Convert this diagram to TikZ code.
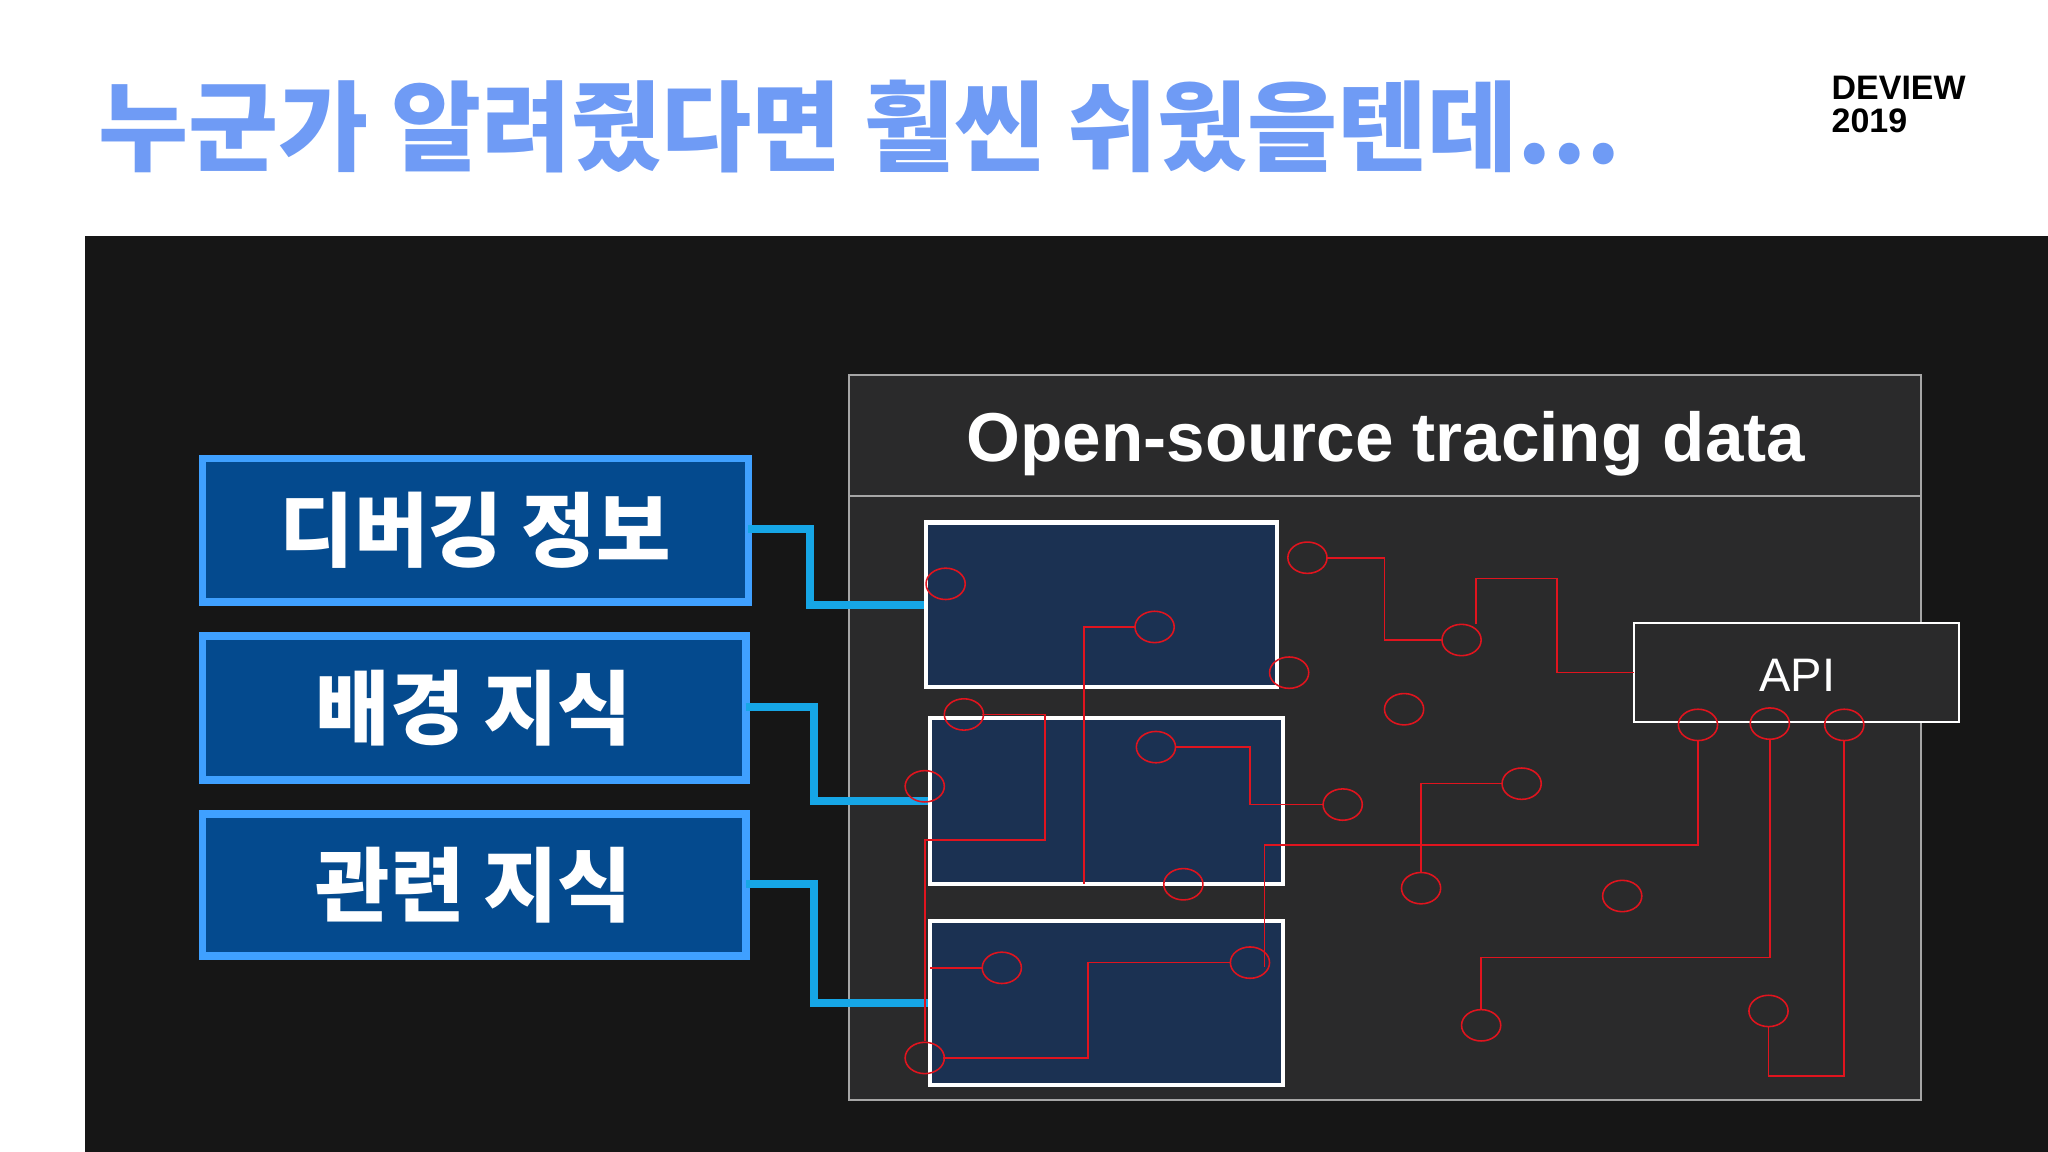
\documentclass[tikz,border=0pt]{standalone}
\usepackage{fontspec}
\setmainfont{Liberation Sans}
\newfontfamily\kr{Noto Sans CJK KR}
\usetikzlibrary{positioning}
\definecolor{ttl}{HTML}{6F9BF5}
\definecolor{panel}{HTML}{161616}
\definecolor{bigbox}{HTML}{2A2A2B}
\definecolor{lbox}{HTML}{044A8E}
\definecolor{lborder}{HTML}{3FA0FF}
\definecolor{cyanl}{HTML}{16A6E6}
\definecolor{ibox}{HTML}{1B3152}
\definecolor{redl}{HTML}{E0141E}
\begin{document}
\begin{tikzpicture}[x=0.5pt,y=-0.5pt,
  lb/.style={draw=lborder,line width=3pt,fill=lbox},
  lt/.style={text=white,font=\kr\bfseries\fontsize{31}{34}\selectfont},
  ib/.style={draw=white,line width=1.6pt,fill=ibox},
  cn/.style={draw=cyanl,line width=3pt},
  rl/.style={draw=redl,line width=0.6pt}]
\useasboundingbox (0,0) rectangle (1568,882);
\fill[white] (0,0) rectangle (1568,882);
\node[anchor=west,text=ttl,font=\kr\bfseries\fontsize{37.5}{40}\selectfont,inner sep=0pt] (title) at (75,97) {누군가 알려줬다면 훨씬 쉬웠을텐데...};
\node[anchor=west,font=\bfseries\fontsize{13}{13}\selectfont,align=left,inner sep=0pt] (dv) at (1402,80) {DEVIEW\\2019};
\fill[panel] (65,181) rectangle (1568,882);
\draw[draw=gray!70,line width=0.8pt,fill=bigbox] (650,287) rectangle (1471,842);
\draw[gray!70,line width=0.8pt] (650,380) -- (1471,380);
\node[text=white,font=\bfseries\fontsize{26.5}{28}\selectfont] (hdr) at (1061,340) {Open-source tracing data};
\draw[lb] (155,351) rectangle (573,461); \node[lt] (l1) at (364,406) {디버깅 정보};
\draw[lb] (155,487) rectangle (571,597); \node[lt] (l2) at (363,542) {배경 지식};
\draw[lb] (155,623) rectangle (571,732); \node[lt] (l3) at (363,678) {관련 지식};
\draw[cn] (573,405) -- (620,405) -- (620,463) -- (709,463);
\draw[cn] (571,541) -- (623,541) -- (623,613) -- (712,613);
\draw[cn] (571,677) -- (623,677) -- (623,768) -- (712,768);
\draw[ib] (709,400) rectangle (978,526);
\draw[ib] (712,550) rectangle (982,677);
\draw[ib] (712,705) rectangle (982,831);
\draw[draw=white,line width=0.8pt,fill=bigbox] (1251,477) rectangle (1500,553);
\node[text=white,font=\fontsize{18}{20}\selectfont] (api) at (1376,517) {API};
\draw[rl] (1016,427) -- (1060,427) -- (1060,490) -- (1104,490);
\draw[rl] (1130,478) -- (1130,443) -- (1192,443) -- (1192,515) -- (1251,515);
\draw[rl] (869,480) -- (830,480) -- (830,677);
\draw[rl] (752,547) -- (800,547) -- (800,643) -- (708,643) -- (708,797);
\draw[rl] (900,572) -- (957,572) -- (957,616) -- (1013,616);
\draw[rl] (1088,668) -- (1088,600) -- (1150,600);
\draw[rl] (968,740) -- (968,647) -- (1300,647) -- (1300,567);
\draw[rl] (1134,773) -- (1134,733) -- (1355,733) -- (1355,566);
\draw[rl] (1354,786) -- (1354,824) -- (1412,824) -- (1412,567);
\draw[rl] (752,741) -- (712,741);
\draw[rl] (722,810) -- (833,810) -- (833,737) -- (942,737);
\foreach \n/\x/\y in {a/724/447,b/884/480,c/1001/427,d/1119/490,e/987/515,f/1075/543,g/738/547,h/885/572,i/1028/616,j/1165/600,k/708/602,l/906/677,m/1088/680,n/1242/686,o/767/741,p/957/737,q/708/810,r/1134/785,s/1354/774,t/1300/555,u/1355/554,v/1412/555}
  \draw[redl,line width=0.6pt] (\x,\y) ellipse (7.5pt and 6pt) coordinate (c\n);
\end{tikzpicture}
\end{document}
